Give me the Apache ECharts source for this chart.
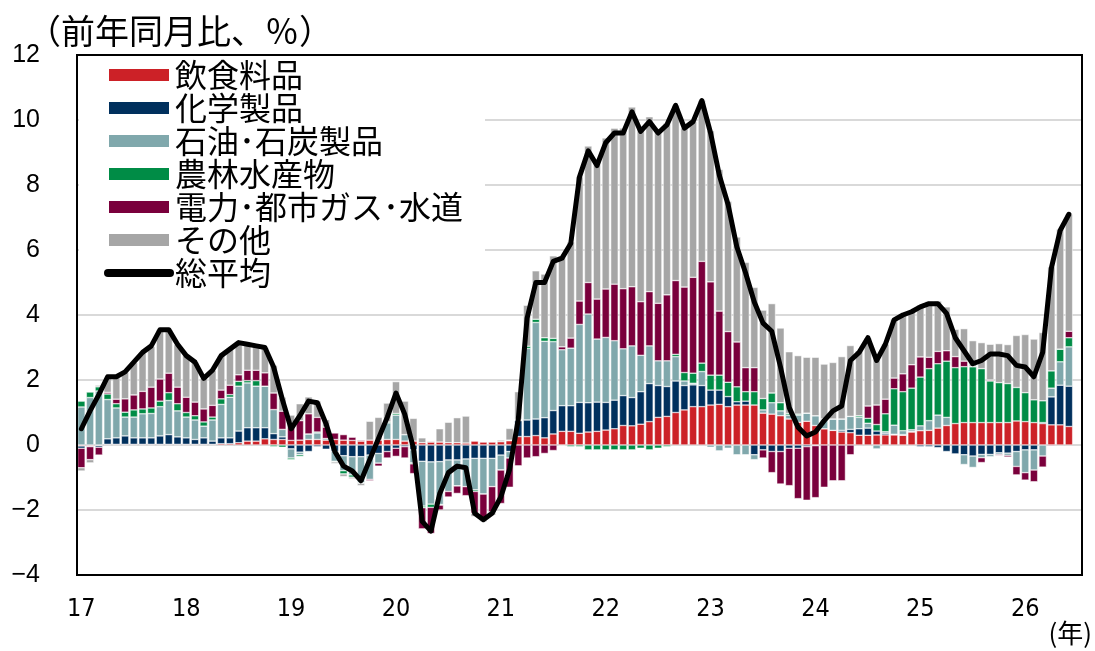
<!DOCTYPE html>
<html>
<head>
<meta charset="utf-8">
<script src="https://cdn.jsdelivr.net/npm/echarts@6/dist/echarts.min.js"></script>
<style>
html, body { margin: 0; padding: 0; background: #fff; }
#chart { width: 1095px; height: 651px; }
</style>
</head>
<body>
<div id="chart"></div>
<script>
// monthly, 2017/01 - 2026/06 (one empty slot at the end: 2026/07)
const years = [2017, 2018, 2019, 2020, 2021, 2022, 2023, 2024, 2025, 2026];
const lastMonth = 7; // 2026/07 slot kept empty

// contributions by category (% pt), one row per year
const food = [
  -0.03, -0.03, -0.02, 0.02, 0.02, 0.02, 0.02, 0.02, 0.02, 0.02, 0.02, 0.02,
  0.02, 0.02, 0.02, 0.02, 0.04, 0.04, 0.07, 0.12, 0.12, 0.19, 0.17, 0.17,
  0.14, 0.15, 0.17, 0.17, 0.15, 0.17, 0.15, 0.14, 0.12, 0.15, 0.15, 0.17,
  0.17, 0.12, 0.12, 0.07, 0.09, 0.09, 0.07, 0.07, 0.06, 0.12, 0.09, 0.09,
  0.10, 0.13, 0.26, 0.26, 0.29, 0.22, 0.34, 0.42, 0.42, 0.36, 0.40, 0.42,
  0.46, 0.50, 0.60, 0.59, 0.64, 0.72, 0.85, 0.88, 1.00, 1.08, 1.18, 1.18,
  1.23, 1.25, 1.18, 1.23, 1.23, 1.23, 0.98, 0.95, 0.90, 0.80, 0.70, 0.73,
  0.60, 0.50, 0.45, 0.40, 0.38, 0.30, 0.30, 0.31, 0.31, 0.31, 0.30, 0.40,
  0.44, 0.45, 0.52, 0.60, 0.66, 0.69, 0.69, 0.69, 0.69, 0.69, 0.69, 0.74,
  0.72, 0.69, 0.66, 0.62, 0.62, 0.57
];
const chemicals = [
  -0.07, -0.02, -0.05, 0.17, 0.20, 0.26, 0.20, 0.20, 0.20, 0.26, 0.30, 0.23,
  0.20, 0.15, 0.20, 0.10, 0.18, 0.18, 0.36, 0.41, 0.41, 0.34, 0.18, 0.08,
  -0.12, -0.22, -0.20, -0.05, -0.13, -0.20, -0.33, -0.36, -0.36, -0.31, -0.26, -0.20,
  -0.10, -0.05, -0.15, -0.50, -0.52, -0.51, -0.46, -0.46, -0.43, -0.41, -0.41, -0.41,
  -0.31, -0.20, 0.49, 0.51, 0.51, 0.62, 0.72, 0.79, 0.79, 0.95, 0.90, 0.90,
  0.85, 0.88, 0.92, 0.87, 1.00, 1.17, 0.98, 0.92, 0.97, 0.75, 0.67, 0.65,
  0.46, 0.44, 0.31, 0.10, 0.12, -0.30, -0.15, -0.20, -0.20, -0.10, -0.10, -0.05,
  -0.02, 0.00, 0.00, 0.05, 0.10, 0.20, 0.22, 0.12, 0.05, 0.02, 0.02, 0.02,
  -0.05, -0.05, -0.08, -0.20, -0.28, -0.30, -0.34, -0.29, -0.29, -0.24, -0.25, -0.20,
  -0.15, -0.15, 0.03, 0.86, 1.22, 1.24
];
const petroleum = [
  1.17, 1.46, 1.66, 1.21, 0.92, 0.58, 0.64, 0.74, 0.75, 0.90, 1.05, 0.80,
  0.64, 0.60, 0.36, 0.65, 1.03, 1.25, 1.38, 1.38, 1.28, 1.28, 0.74, 0.23,
  -0.28, -0.08, 0.17, 0.20, 0.05, -0.30, -0.46, -0.56, -0.80, -0.75, -0.30, 0.51,
  0.75, 0.20, -0.40, -1.38, -1.30, -1.32, -0.97, -0.80, -0.85, -0.97, -1.10, -0.87,
  -0.46, -0.20, 0.02, 2.20, 2.97, 2.35, 2.12, 1.72, 1.77, 2.40, 2.73, 1.94,
  2.00, 1.83, 1.44, 1.59, 1.12, 1.16, 0.76, 0.79, 0.75, 0.14, 0.05, 0.43,
  -0.07, -0.18, -0.10, -0.30, -0.30, -0.15, 0.10, 0.35, 0.15, 0.12, 0.22, 0.25,
  0.30, 0.30, 0.35, 0.35, 0.40, 0.35, 0.15, -0.12, 0.05, 0.28, 0.12, 0.05,
  0.15, 0.30, 0.40, 0.25, 0.00, -0.30, -0.35, -0.10, -0.07, -0.05, -0.07, -0.46,
  -0.70, -0.62, -0.34, 0.27, 0.72, 1.21
];
const farm = [
  0.18, 0.17, 0.13, 0.17, 0.13, 0.15, 0.22, 0.15, 0.17, 0.17, 0.24, 0.22,
  0.14, 0.13, 0.13, 0.09, 0.17, 0.08, 0.15, 0.07, 0.17, 0.00, -0.05, -0.07,
  -0.05, -0.05, 0.00, 0.03, 0.00, -0.02, -0.10, -0.07, -0.02, 0.00, 0.00, 0.03,
  0.05, 0.00, -0.03, -0.05, -0.10, -0.02, 0.00, 0.00, 0.00, -0.05, 0.00, 0.00,
  0.00, 0.02, 0.02, 0.07, 0.10, 0.11, 0.10, -0.02, -0.05, -0.05, -0.15, -0.15,
  -0.15, -0.15, -0.15, -0.15, -0.10, -0.15, -0.10, -0.05, 0.07, 0.26, 0.31, 0.26,
  0.46, 0.46, 0.44, 0.46, 0.29, 0.41, 0.35, 0.30, 0.25, 0.05, 0.03, 0.00,
  0.00, 0.00, 0.00, 0.00, 0.00, 0.05, 0.15, 0.20, 0.55, 1.12, 1.20, 1.28,
  1.50, 1.60, 1.58, 1.73, 1.72, 1.72, 1.72, 1.66, 1.28, 1.23, 1.20, 1.03,
  0.89, 0.70, 0.67, 0.53, 0.39, 0.28
];
const utilities = [
  -0.60, -0.40, -0.24, 0.05, 0.14, 0.41, 0.46, 0.54, 0.64, 0.68, 0.60, 0.51,
  0.47, 0.42, 0.40, 0.36, 0.27, 0.29, 0.20, 0.32, 0.32, 0.41, 0.51, 0.56,
  0.55, 0.60, 0.62, 0.45, 0.35, 0.20, 0.17, 0.10, 0.03, -0.04, -0.09, -0.20,
  -0.25, -0.35, -0.30, -0.65, -0.80, -0.15, -0.17, -0.23, -0.28, -0.67, -0.80, -0.78,
  -1.03, -0.90, -0.64, -0.40, -0.36, -0.26, -0.17, 0.09, 0.31, 0.72, 0.97, 1.23,
  1.49, 1.74, 1.85, 1.82, 1.65, 1.67, 1.77, 2.03, 2.27, 2.63, 2.95, 3.13,
  2.87, 1.97, 1.56, 1.38, 0.74, 0.74, -0.25, -0.65, -1.00, -1.15, -1.55, -1.65,
  -1.60, -1.30, -1.10, -1.10, -0.30, 0.00, 0.38, 0.60, 0.45, 0.33, 0.55, 0.72,
  0.62, 0.35, 0.38, 0.32, 0.34, 0.17, 0.00, -0.15, 0.03, -0.03, -0.05, -0.26,
  -0.23, -0.36, -0.34, -0.03, 0.00, 0.20
];
const others = [
  -0.10, -0.10, 0.05, 0.45, 0.67, 0.82, 1.00, 1.18, 1.25, 1.52, 1.33, 1.31,
  1.28, 1.23, 0.94, 1.08, 1.06, 1.11, 0.99, 0.80, 0.75, 0.78, 0.85, 0.43,
  0.23, 0.52, 0.52, 0.50, 0.23, -0.05, -0.08, -0.05, -0.07, 0.58, 0.70, 0.58,
  0.98, 1.03, 0.70, 0.15, 0.03, 0.41, 0.63, 0.77, 0.83, -0.10, -0.05, -0.10,
  0.05, 0.36, 0.85, 1.26, 1.49, 1.96, 2.54, 2.75, 2.96, 3.83, 4.20, 4.26,
  4.65, 4.80, 4.94, 5.53, 5.34, 5.38, 5.34, 5.28, 5.39, 4.89, 4.79, 4.95,
  4.65, 4.36, 4.01, 3.23, 3.24, 2.47, 2.72, 2.75, 2.30, 1.90, 1.80, 1.72,
  1.80, 1.69, 1.74, 1.92, 2.18, 2.00, 2.10, 1.50, 1.70, 1.81, 1.83, 1.65,
  1.60, 1.72, 1.55, 1.35, 0.84, 1.00, 0.80, 0.80, 1.10, 1.20, 1.20, 1.60,
  1.79, 1.87, 2.10, 3.20, 3.69, 3.60
];
// overall YoY (%)
const total = [
  0.50, 1.05, 1.55, 2.10, 2.10, 2.25, 2.55, 2.85, 3.05, 3.55, 3.55, 3.10,
  2.75, 2.55, 2.05, 2.30, 2.75, 2.95, 3.15, 3.10, 3.05, 3.00, 2.40, 1.40,
  0.50, 0.90, 1.35, 1.30, 0.65, -0.20, -0.65, -0.80, -1.10, -0.45, 0.20, 0.85,
  1.60, 0.95, -0.10, -2.35, -2.65, -1.50, -0.85, -0.65, -0.70, -2.10, -2.30, -2.10,
  -1.60, -0.75, 0.80, 3.90, 5.00, 5.00, 5.65, 5.75, 6.20, 8.25, 9.05, 8.60,
  9.30, 9.60, 9.60, 10.25, 9.65, 9.95, 9.60, 9.85, 10.45, 9.75, 9.95, 10.60,
  9.60, 8.30, 7.40, 6.10, 5.30, 4.40, 3.75, 3.50, 2.40, 1.15, 0.55, 0.28,
  0.40, 0.75, 1.05, 1.20, 2.60, 2.85, 3.30, 2.60, 3.10, 3.85, 4.00, 4.10,
  4.25, 4.35, 4.35, 4.05, 3.30, 2.90, 2.50, 2.60, 2.80, 2.80, 2.75, 2.45,
  2.40, 2.10, 2.85, 5.45, 6.60, 7.10
];

const names = ['飲食料品', '化学製品', '石油･石炭製品', '農林水産物', '電力･都市ガス･水道', 'その他'];
const colors = ['#CC2127', '#00305D', '#80A8AC', '#008C46', '#7A003C', '#A6A6A6'];
const barData = [food, chemicals, petroleum, farm, utilities, others];

const months = [];
years.forEach(function (y) {
  for (let m = 1; m <= 12; m++) {
    if (y === 2026 && m > lastMonth) break;
    months.push(y + '-' + (m < 10 ? '0' + m : m));
  }
});

const cjk = '"Noto Sans CJK JP", "Noto Sans CJK SC", sans-serif';

const chart = echarts.init(document.getElementById('chart'));

const series = names.map(function (n, i) {
  return {
    name: n,
    type: 'bar',
    stack: 'all',
    barCategoryGap: '14%',
    itemStyle: { color: colors[i], borderColor: '#fff', borderWidth: 0.5 },
    data: barData[i]
  };
});
series.push({
  name: '総平均',
  type: 'line',
  symbol: 'none',
  z: 5,
  lineStyle: { color: '#000', width: 5, cap: 'round', join: 'round' },
  itemStyle: { color: '#000' },
  data: total
});

chart.setOption({
  animation: false,
  backgroundColor: '#fff',
  title: {
    text: '（前年同月比、％）',
    left: 22, top: 9,
    textStyle: { fontFamily: cjk, fontSize: 34, fontWeight: 'normal', color: '#000' }
  },
  grid: { left: 77, top: 55, right: 13, bottom: 76 },
  legend: {
    orient: 'vertical', left: 104, top: 59, padding: 0,
    itemWidth: 62, itemHeight: 14, itemGap: 1,
    selectedMode: false,
    textStyle: { fontFamily: cjk, fontSize: 32, lineHeight: 32, color: '#000' },
    data: names.map(function (n) { return { name: n, icon: 'rect' }; }).concat([{
      name: '総平均',
      itemStyle: { opacity: 0 },
      lineStyle: { color: '#000', width: 8, cap: 'round' }
    }])
  },
  graphic: [
    // white box behind the legend (hides gridlines there)
    { type: 'rect', z: 1, shape: { x: 79, y: 56, width: 406, height: 244 }, style: { fill: '#fff' } },
    // plot frame
    { type: 'rect', z: 6, shape: { x: 77, y: 55, width: 1005, height: 520 }, style: { fill: null, stroke: '#000', lineWidth: 2 } },
    { type: 'text', right: 3, top: 620, style: { text: '(年)', fontFamily: cjk, fontSize: 26, fill: '#000' } }
  ],
  xAxis: {
    type: 'category',
    data: months,
    boundaryGap: true,
    axisLine: { show: false },
    axisTick: { show: false },
    splitLine: { show: false },
    axisLabel: {
      interval: function (idx) { return idx % 12 === 0; },
      formatter: function (v) { return v.slice(2, 4); },
      margin: 22,
      fontFamily: '"Liberation Sans Narrow", "DejaVu Sans Condensed", "Liberation Sans", sans-serif',
      fontSize: 25, color: '#000'
    }
  },
  yAxis: {
    type: 'value',
    min: -4, max: 12, interval: 2,
    axisLine: { show: false },
    axisTick: { show: false },
    splitLine: { lineStyle: { color: '#D9D9D9', width: 2 } },
    axisLabel: {
      margin: 37,
      fontFamily: '"Liberation Sans", Arial, sans-serif',
      fontSize: 25, color: '#000',
      formatter: function (v) { return v < 0 ? '−' + Math.abs(v) : String(v); }
    }
  },
  series: series
});
</script>
</body>
</html>
